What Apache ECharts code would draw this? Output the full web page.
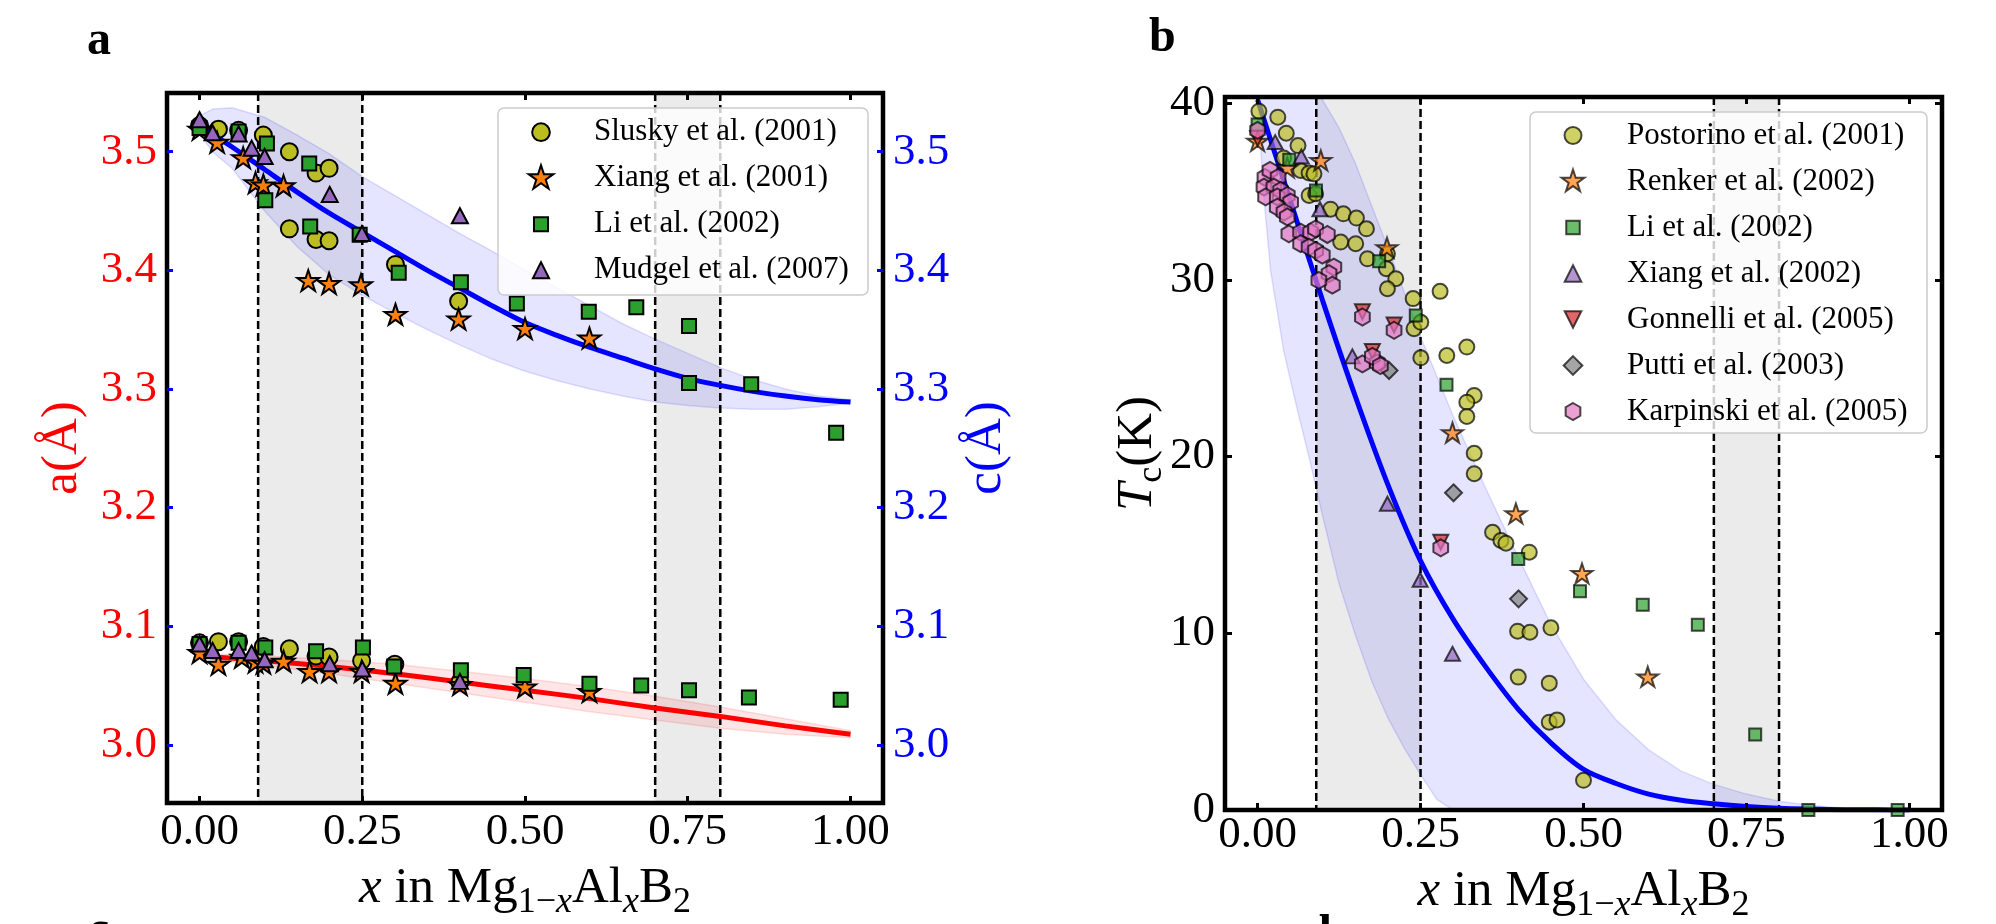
<!DOCTYPE html>
<html><head><meta charset="utf-8">
<script src="https://cdn.jsdelivr.net/npm/echarts@6/dist/echarts.min.js"></script>
<style>html,body{margin:0;padding:0;background:#fff;}#c{width:1996px;height:924px;}</style>
</head><body><div id="c"></div>
<script>
// ---------- tick labels / ranges ----------
const xTicks = [0, 0.25, 0.5, 0.75, 1.0];
const latticeTicks = [3.0, 3.1, 3.2, 3.3, 3.4, 3.5];
const tcTicks = [0, 10, 20, 30, 40];
const shadedSpans = [[0.09, 0.25], [0.70, 0.80]];
const dashedX = [0.09, 0.25, 0.70, 0.80];

// ---------- panel a : lattice parameters (c upper group, a lower group) ----------
const sluskyC = [[0,3.522],[0.029,3.519],[0.060,3.518],[0.098,3.514],[0.138,3.500],[0.179,3.482],[0.199,3.486],[0.138,3.435],[0.179,3.426],[0.199,3.425],[0.301,3.405],[0.398,3.374]];
const sluskyA = [[0,3.086],[0.029,3.087],[0.060,3.087],[0.098,3.083],[0.138,3.081],[0.179,3.075],[0.199,3.074],[0.249,3.071],[0.300,3.068],[0.400,3.053]];
const xiang01C = [[0,3.518],[0.027,3.507],[0.067,3.494],[0.086,3.473],[0.098,3.471],[0.129,3.4705],[0.167,3.3905],[0.199,3.388],[0.248,3.387],[0.301,3.362],[0.398,3.358],[0.500,3.350],[0.599,3.342]];
const xiang01A = [[0,3.077],[0.029,3.067],[0.065,3.073],[0.086,3.069],[0.098,3.068],[0.129,3.0695],[0.169,3.061],[0.199,3.061],[0.249,3.061],[0.301,3.051],[0.400,3.050],[0.500,3.048],[0.599,3.044]];
const liC = [[0,3.520],[0.060,3.517],[0.1035,3.507],[0.1685,3.490],[0.101,3.459],[0.170,3.437],[0.246,3.430],[0.306,3.398],[0.4015,3.390],[0.4875,3.372],[0.598,3.365],[0.671,3.369],[0.752,3.353],[0.752,3.305],[0.8475,3.304],[0.978,3.263]];
const liA = [[0,3.085],[0.060,3.086],[0.101,3.082],[0.179,3.079],[0.251,3.082],[0.299,3.066],[0.4015,3.063],[0.498,3.059],[0.599,3.0515],[0.6785,3.050],[0.752,3.046],[0.844,3.040],[0.985,3.038]];
const mudgelC = [[0,3.527],[0.020,3.516],[0.060,3.515],[0.080,3.503],[0.100,3.496],[0.200,3.464],[0.2495,3.431],[0.400,3.446]];
const mudgelA = [[0,3.085],[0.020,3.0796],[0.060,3.0796],[0.080,3.0774],[0.100,3.0718],[0.200,3.0684],[0.250,3.064],[0.400,3.0535]];

const fitC = [[0,3.522],[0.05,3.504],[0.1,3.485],[0.15,3.466],[0.2,3.448],[0.25,3.432],[0.3,3.416],[0.35,3.400],[0.4,3.385],[0.45,3.370],[0.5,3.356],[0.55,3.345],[0.6,3.335],[0.65,3.326],[0.7,3.317],[0.75,3.309],[0.8,3.303],[0.85,3.298],[0.9,3.294],[0.95,3.291],[1.0,3.289]];
const bandCUpper = [[0,3.530],[0.02,3.536],[0.05,3.537],[0.1,3.529],[0.15,3.514],[0.2,3.498],[0.25,3.479],[0.3,3.463],[0.35,3.447],[0.4,3.431],[0.45,3.416],[0.5,3.400],[0.55,3.385],[0.6,3.370],[0.65,3.355],[0.7,3.342],[0.75,3.330],[0.8,3.318],[0.85,3.308],[0.9,3.300],[0.95,3.294],[1.0,3.291]];
const bandCLower = [[0,3.515],[0.02,3.500],[0.05,3.486],[0.1,3.450],[0.15,3.420],[0.2,3.396],[0.25,3.379],[0.3,3.364],[0.35,3.350],[0.4,3.337],[0.45,3.325],[0.5,3.315],[0.55,3.307],[0.6,3.300],[0.65,3.294],[0.7,3.289],[0.75,3.286],[0.8,3.284],[0.85,3.283],[0.9,3.283],[0.95,3.285],[1.0,3.288]];
const fitA = [[0,3.075],[0.1,3.071],[0.2,3.066],[0.3,3.060],[0.4,3.053],[0.5,3.046],[0.6,3.039],[0.7,3.031],[0.8,3.024],[0.9,3.016],[1.0,3.009]];
const bandAUpper = [[0,3.077],[0.1,3.075],[0.2,3.072],[0.3,3.068],[0.4,3.062],[0.5,3.056],[0.6,3.049],[0.7,3.041],[0.8,3.032],[0.9,3.022],[1.0,3.012]];
const bandALower = [[0,3.073],[0.1,3.067],[0.2,3.060],[0.3,3.052],[0.4,3.044],[0.5,3.036],[0.6,3.028],[0.7,3.021],[0.8,3.014],[0.9,3.009],[1.0,3.006]];

// ---------- panel b : Tc ----------
const postorino = [[0.002,39.55],[0.031,39.21],[0.044,38.3],[0.062,37.6],[0.040,36.9],[0.066,36.19],[0.079,36.05],[0.0865,36.0],[0.079,34.78],[0.089,34.88],[0.112,34.0],[0.1316,33.74],[0.1516,33.5],[0.167,32.89],[0.1275,32.14],[0.1505,32.05],[0.1685,31.19],[0.1992,31.48],[0.1976,30.63],[0.212,30.07],[0.1992,29.5],[0.2386,28.94],[0.280,29.35],[0.240,27.24],[0.2504,27.6],[0.2504,25.59],[0.2903,25.72],[0.321,26.2],[0.3323,23.46],[0.321,23.08],[0.321,22.27],[0.3323,20.19],[0.3323,19.03],[0.3605,15.72],[0.3733,15.25],[0.381,15.1],[0.4168,14.59],[0.3989,10.12],[0.4178,10.06],[0.450,10.31],[0.3999,7.52],[0.4475,7.18],[0.4475,4.97],[0.4593,5.1],[0.500,1.68]];
const renker = [[0.0,37.8],[0.0456,36.3],[0.097,36.7],[0.1985,31.77],[0.299,21.3],[0.3963,16.72],[0.4977,13.33],[0.5986,7.48]];
const liTc = [[0.0,38.8],[0.0486,36.8],[0.0896,35.06],[0.1865,31.05],[0.2427,27.99],[0.2898,24.06],[0.3999,14.2],[0.4946,12.38],[0.5909,11.61],[0.6754,10.48],[0.7634,4.27],[0.845,0.0],[0.982,0.0]];
const xiang02 = [[0.027,37.8],[0.067,36.98],[0.0957,34.0],[0.1454,25.67],[0.1992,17.33],[0.2494,13.03],[0.299,8.84]];
const gonnelli = [[0.0,38.0],[0.1608,28.2],[0.2094,27.45],[0.1761,25.95],[0.281,15.15]];
const putti = [[0.2017,24.87],[0.3006,17.95],[0.4004,11.95]];
const karpinski = [[0.0,38.46],[0.0113,35.8],[0.019,36.2],[0.0315,35.8],[0.0098,35.25],[0.025,35.25],[0.0354,35.06],[0.0123,34.7],[0.0302,34.7],[0.0456,34.78],[0.0507,34.4],[0.0302,34.12],[0.0405,33.84],[0.0456,33.56],[0.048,32.61],[0.066,32.7],[0.0814,32.7],[0.089,32.89],[0.107,32.57],[0.066,32.05],[0.079,31.86],[0.089,31.67],[0.0993,31.4],[0.117,30.72],[0.1096,30.35],[0.1147,29.7],[0.094,29.97],[0.1608,27.9],[0.2094,27.15],[0.1608,25.25],[0.1838,25.3],[0.1761,25.67],[0.1884,25.15],[0.281,14.84]];

const fitTc = [[0,40.2],[0.05,34.5],[0.1,28.8],[0.15,23.4],[0.2,18.4],[0.25,14.1],[0.3,10.8],[0.35,8.1],[0.4,5.7],[0.45,3.8],[0.5,2.3],[0.55,1.5],[0.6,0.9],[0.65,0.55],[0.7,0.35],[0.75,0.2],[0.8,0.1],[0.85,0.05],[0.9,0.02],[0.95,0.01],[1.0,0.0]];
const bandTcUpper = [[0,40.5],[0.097,40.35],[0.125,38.6],[0.15,36.6],[0.175,34.2],[0.2,31.8],[0.25,26.8],[0.3,22.3],[0.35,18.2],[0.4,14.3],[0.45,10.5],[0.5,7.4],[0.55,5.1],[0.6,3.4],[0.65,2.2],[0.7,1.45],[0.75,0.9],[0.8,0.5],[0.85,0.25],[0.9,0.1],[0.95,0.03],[1.0,0.0]];
const bandTcLower = [[0,40.2],[0.01,34.5],[0.02,30.5],[0.04,26.0],[0.06,22.8],[0.08,19.8],[0.1,16.6],[0.125,12.8],[0.15,9.9],[0.175,7.3],[0.2,5.2],[0.225,3.5],[0.25,2.0],[0.275,0.6],[0.3,0.0],[1.0,0.0]];

// ---------- styles ----------
const SERIF = '"Liberation Serif", "DejaVu Serif", serif';
const STAR = 'M50,0L61.23,34.55L97.55,34.55L68.16,55.9L79.39,90.45L50,69.1L20.61,90.45L31.84,55.9L2.45,34.55L38.77,34.55Z';
const SYM = {
  star: 'path://M0,0M100,100' + STAR,
  hex: 'path://M0,0M100,100M50,0L93.3,25L93.3,75L50,100L6.7,75L6.7,25Z',
  down: 'path://M0,0L100,0L50,100Z'
};
const ICON = {
  circA: 'path://M0,0M100,100M84,50A34,34,0,1,1,16,50A34,34,0,1,1,84,50Z',
  starA: 'path://M0,0M100,100' + STAR,
  sqA: 'path://M0,0M100,100M23,23L77,23L77,77L23,77Z',
  triA: 'path://M0,0M100,100M50,19L81,81L19,81Z',
  circB: 'path://M0,0M100,100M82.7,50A32.7,32.7,0,1,1,17.3,50A32.7,32.7,0,1,1,82.7,50Z',
  starB: 'path://M0,0M100,100M50,4L60.35,35.76L93.75,35.8L66.74,55.44L77.04,87.2L50,67.6L22.96,87.2L33.26,55.44L6.25,35.8L39.65,35.76Z',
  sqB: 'path://M0,0M100,100M24,24L76,24L76,76L24,76Z',
  triB: 'path://M0,0M100,100M50,18L82,82L18,82Z',
  downB: 'path://M0,0M100,100M18,18L82,18L50,82Z',
  diamB: 'path://M0,0M100,100M50,14L86,50L50,86L14,50Z',
  hexB: 'path://M0,0M100,100M50,17.3L78.3,33.65L78.3,66.35L50,82.7L21.7,66.35L21.7,33.65Z'
};
const C = {olive:'#bcbd22', orange:'#ff7f0e', green:'#2ca02c', purple:'#9467bd', red:'#d62728', gray:'#7f7f7f', pink:'#e377c2'};

function scatterA(name, data, symbol, size, color) {
  return {type:'scatter', name, data, symbol, symbolSize:size, xAxisIndex:0, yAxisIndex:0, z:5, silent:true,
    itemStyle:{color, borderColor:'#000', borderWidth:2, opacity:1}};
}
function scatterB(name, data, symbol, size, color) {
  return {type:'scatter', name, data, symbol, symbolSize:size, xAxisIndex:2, yAxisIndex:2, z:5, silent:true,
    itemStyle:{color, borderColor:'#000', borderWidth:2, opacity:0.7}};
}
function spanSeries(ai) {
  return {type:'custom', xAxisIndex:ai, yAxisIndex:ai, z:1, silent:true, clip:true, data: shadedSpans,
    renderItem(params, api) {
      const cs = params.coordSys;
      const x0 = api.coord([api.value(0), 0])[0], x1 = api.coord([api.value(1), 0])[0];
      return {type:'rect', shape:{x:x0, y:cs.y, width:x1-x0, height:cs.height}, style:{fill:'#ebebeb'}};
    }};
}
function dashSeries(ai) {
  return {type:'custom', xAxisIndex:ai, yAxisIndex:ai, z:3, silent:true, data: dashedX.map(v => [v, 0]),
    renderItem(params, api) {
      const cs = params.coordSys;
      const x = api.coord([api.value(0), 0])[0];
      return {type:'line', shape:{x1:x, y1:cs.y, x2:x, y2:cs.y+cs.height}, style:{stroke:'#000', lineWidth:2.5, lineDash:[8,4]}};
    }};
}
function bandSeries(ai, upper, lower, fill, stroke) {
  return {type:'custom', xAxisIndex:ai, yAxisIndex:ai, z:2, silent:true, clip:true, data:[[0.5, 0]],
    renderItem(params, api) {
      const cs = params.coordSys;
      const pts = upper.map(p => api.coord(p)).concat(lower.slice().reverse().map(p => api.coord(p)));
      const clipped = echarts.graphic.clipPointsByRect(pts, {x:cs.x, y:cs.y, width:cs.width, height:cs.height});
      return {type:'polygon', shape:{points:clipped}, style:{fill, stroke, lineWidth:1.5}};
    }};
}
function fitSeries(ai, data, color) {
  return {type:'line', data, xAxisIndex:ai, yAxisIndex:ai, z:4, silent:true, showSymbol:false, symbol:'none',
    smooth:0.3, clip:true, lineStyle:{color, width:5}};
}

const tickLabel = {fontFamily:SERIF, fontSize:45, color:'#000'};
const nameRich = {
  r:{fontFamily:SERIF, fontSize:51, lineHeight:48, verticalAlign:'middle', color:'#000'},
  i:{fontFamily:SERIF, fontSize:51, lineHeight:48, fontStyle:'italic', verticalAlign:'middle', color:'#000'},
  s:{fontFamily:SERIF, fontSize:36, lineHeight:48, padding:[28,0,0,0], verticalAlign:'middle', color:'#000'},
  si:{fontFamily:SERIF, fontSize:36, lineHeight:48, padding:[28,0,0,0], fontStyle:'italic', verticalAlign:'middle', color:'#000'}
};
const xName = '{i|x}{r| in Mg}{s|1−}{si|x}{r|Al}{si|x}{r|B}{s|2}';
const noLine = {show:false, onZero:false};

function xAxisBottom(gi, gap, margin) {
  return {gridIndex:gi, type:'value', position:'bottom', min:-0.05, max:1.05, z:6,
    axisLine:noLine, splitLine:{show:false},
    axisTick:{show:true, inside:true, length:7, customValues:xTicks, lineStyle:{color:'#000', width:3}},
    axisLabel:{show:true, customValues:xTicks, margin, formatter:v => v.toFixed(2), ...tickLabel},
    name:xName, nameLocation:'middle', nameGap:gap, nameMoveOverlap:false,
    nameTextStyle:{fontFamily:SERIF, fontSize:51, lineHeight:48, color:'#000', rich:nameRich}};
}
function xAxisTop(gi) {
  return {gridIndex:gi, type:'value', position:'top', min:-0.05, max:1.05, z:6,
    axisLine:noLine, splitLine:{show:false},
    axisTick:{show:true, inside:true, length:7, customValues:xTicks, lineStyle:{color:'#000', width:3}},
    axisLabel:{show:false}};
}

const option = {
  animation:false,
  backgroundColor:'#fff',
  grid:[
    {left:167, top:93, width:716, height:710, show:true, borderColor:'#000', borderWidth:4.5, backgroundColor:'rgba(0,0,0,0)', z:6, containLabel:false, outerBoundsMode:'none'},
    {left:1225, top:97, width:717, height:713, show:true, borderColor:'#000', borderWidth:4.5, backgroundColor:'rgba(0,0,0,0)', z:6, containLabel:false, outerBoundsMode:'none'}
  ],
  xAxis:[xAxisBottom(0, 62, 7), xAxisTop(0), xAxisBottom(1, 58, 3), xAxisTop(1)],
  yAxis:[
    {gridIndex:0, type:'value', position:'left', min:2.951, max:3.5495, z:6,
      axisLine:noLine, splitLine:{show:false},
      axisTick:{show:true, inside:true, length:6, customValues:latticeTicks, lineStyle:{color:'#0000ff', width:3}},
      axisLabel:{show:true, customValues:latticeTicks, margin:10, formatter:v => v.toFixed(1), ...tickLabel, color:'#ff0000'},
      name:'a(Å)', nameLocation:'middle', nameGap:80, nameMoveOverlap:false,
      nameTextStyle:{fontFamily:SERIF, fontSize:51, lineHeight:48, color:'#ff0000'}},
    {gridIndex:0, type:'value', position:'right', min:2.951, max:3.5495, z:6,
      axisLine:noLine, splitLine:{show:false},
      axisTick:{show:true, inside:true, length:6, customValues:latticeTicks, lineStyle:{color:'#0000ff', width:3}},
      axisLabel:{show:true, customValues:latticeTicks, margin:10, formatter:v => v.toFixed(1), ...tickLabel, color:'#0000ff'},
      name:'c(Å)', nameLocation:'middle', nameGap:80, nameMoveOverlap:false,
      nameTextStyle:{fontFamily:SERIF, fontSize:51, lineHeight:48, color:'#0000ff'}},
    {gridIndex:1, type:'value', position:'left', min:0, max:40.35, z:6,
      axisLine:noLine, splitLine:{show:false},
      axisTick:{show:true, inside:true, length:7, customValues:tcTicks, lineStyle:{color:'#000', width:3}},
      axisLabel:{show:true, customValues:tcTicks, margin:10, formatter:v => String(v), ...tickLabel},
      name:'{i|T}{s|c}{r|(K)}', nameLocation:'middle', nameGap:63, nameMoveOverlap:false,
      nameTextStyle:{fontFamily:SERIF, fontSize:51, lineHeight:48, color:'#000', rich:nameRich}},
    {gridIndex:1, type:'value', position:'right', min:0, max:40.35, z:6,
      axisLine:noLine, splitLine:{show:false},
      axisTick:{show:true, inside:true, length:7, customValues:tcTicks, lineStyle:{color:'#000', width:3}},
      axisLabel:{show:false}}
  ],
  legend:[
    {orient:'vertical', left:527, top:116.7, padding:0, itemGap:15, itemWidth:26, itemHeight:26, selectedMode:false, z:8,
      formatter:n => '{t|' + n + '}',
      textStyle:{color:'#000', fontFamily:SERIF, fontSize:31, rich:{t:{padding:[0,0,0,35], fontFamily:SERIF, fontSize:31, lineHeight:30, color:'#000'}}},
      data:[
        {name:'Slusky et al. (2001)', icon:ICON.circA, itemStyle:{color:C.olive, borderColor:'#000', borderWidth:2, opacity:1}},
        {name:'Xiang et al. (2001)', icon:ICON.starA, itemStyle:{color:C.orange, borderColor:'#000', borderWidth:2, opacity:1}},
        {name:'Li et al. (2002)', icon:ICON.sqA, itemStyle:{color:C.green, borderColor:'#000', borderWidth:2, opacity:1}},
        {name:'Mudgel et al. (2007)', icon:ICON.triA, itemStyle:{color:C.purple, borderColor:'#000', borderWidth:2, opacity:1}}
      ]},
    {orient:'vertical', left:1559, top:120, padding:0, itemGap:15, itemWidth:26, itemHeight:26, selectedMode:false, z:8,
      formatter:n => '{t|' + n + '}',
      textStyle:{color:'#000', fontFamily:SERIF, fontSize:31, rich:{t:{padding:[0,0,0,36], fontFamily:SERIF, fontSize:31, lineHeight:30, color:'#000'}}},
      data:[
        {name:'Postorino et al. (2001)', icon:ICON.circB, itemStyle:{color:C.olive, borderColor:'#000', borderWidth:2, opacity:0.7}},
        {name:'Renker et al. (2002)', icon:ICON.starB, itemStyle:{color:C.orange, borderColor:'#000', borderWidth:2, opacity:0.7}},
        {name:'Li et al. (2002)', icon:ICON.sqB, itemStyle:{color:C.green, borderColor:'#000', borderWidth:2, opacity:0.7}},
        {name:'Xiang et al. (2002)', icon:ICON.triB, itemStyle:{color:C.purple, borderColor:'#000', borderWidth:2, opacity:0.7}},
        {name:'Gonnelli et al. (2005)', icon:ICON.downB, itemStyle:{color:C.red, borderColor:'#000', borderWidth:2, opacity:0.7}},
        {name:'Putti et al. (2003)', icon:ICON.diamB, itemStyle:{color:C.gray, borderColor:'#000', borderWidth:2, opacity:0.7}},
        {name:'Karpinski et al. (2005)', icon:ICON.hexB, itemStyle:{color:C.pink, borderColor:'#000', borderWidth:2, opacity:0.7}}
      ]}
  ],
  graphic:[
    {type:'rect', z:7, silent:true, shape:{x:498, y:108, width:370, height:187, r:6}, style:{fill:'rgba(255,255,255,0.8)', stroke:'#cccccc', lineWidth:1.5}},
    {type:'rect', z:7, silent:true, shape:{x:1530, y:112, width:397, height:321, r:6}, style:{fill:'rgba(255,255,255,0.8)', stroke:'#cccccc', lineWidth:1.5}},
    {type:'text', z:7, silent:true, x:87, y:66, style:{text:'a', font:'bold 48px "Liberation Serif"', fill:'#000', verticalAlign:'bottom'}},
    {type:'text', z:7, silent:true, x:1149, y:63, style:{text:'b', font:'bold 48px "Liberation Serif"', fill:'#000', verticalAlign:'bottom'}},
    {type:'text', z:7, silent:true, x:88, y:956, style:{text:'c', font:'bold 48px "Liberation Serif"', fill:'#000', verticalAlign:'bottom'}},
    {type:'text', z:7, silent:true, x:1305, y:960, style:{text:'d', font:'bold 48px "Liberation Serif"', fill:'#000', verticalAlign:'bottom'}}
  ],
  series:[
    spanSeries(0),
    bandSeries(0, bandCUpper, bandCLower, 'rgba(0,0,255,0.1)', 'rgba(0,0,255,0.12)'),
    bandSeries(0, bandAUpper, bandALower, 'rgba(255,0,0,0.1)', 'rgba(255,0,0,0.12)'),
    dashSeries(0),
    fitSeries(0, fitC, '#0000ff'),
    fitSeries(0, fitA, '#ff0000'),
    scatterA('Slusky et al. (2001)', sluskyC.concat(sluskyA), 'circle', 17, C.olive),
    scatterA('Xiang et al. (2001)', xiang01C.concat(xiang01A), SYM.star, 23, C.orange),
    scatterA('Li et al. (2002)', liC.concat(liA), 'rect', 14, C.green),
    scatterA('Mudgel et al. (2007)', mudgelC.concat(mudgelA), 'triangle', [16,15], C.purple),

    spanSeries(2),
    bandSeries(2, bandTcUpper, bandTcLower, 'rgba(0,0,255,0.1)', 'rgba(0,0,255,0.12)'),
    dashSeries(2),
    fitSeries(2, fitTc, '#0000ff'),
    scatterB('Postorino et al. (2001)', postorino, 'circle', 15, C.olive),
    scatterB('Renker et al. (2002)', renker, SYM.star, 22, C.orange),
    scatterB('Li et al. (2002)', liTc, 'rect', 12, C.green),
    scatterB('Xiang et al. (2002)', xiang02, 'triangle', [15,14], C.purple),
    scatterB('Gonnelli et al. (2005)', gonnelli, SYM.down, 15, C.red),
    scatterB('Putti et al. (2003)', putti, 'diamond', 17, C.gray),
    scatterB('Karpinski et al. (2005)', karpinski, SYM.hex, 17, C.pink)
  ]
};
const chart = echarts.init(document.getElementById('c'), null, {renderer:'canvas', width:1996, height:924});
chart.setOption(option);
</script></body></html>
